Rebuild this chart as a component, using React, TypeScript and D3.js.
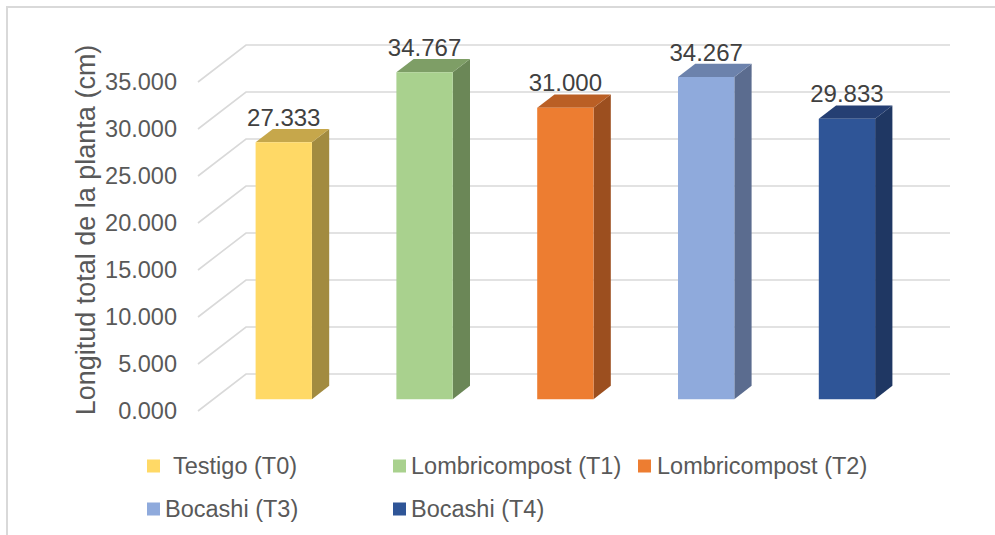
import React from "react";
import * as d3 from "d3";

const categories = ["Testigo (T0)", "Lombricompost (T1)", "Lombricompost (T2)", "Bocashi (T3)", "Bocashi (T4)"];
const values = [27.333, 34.767, 31.0, 34.267, 29.833];
const valueLabels = ["27.333", "34.767", "31.000", "34.267", "29.833"];
const frontColors = ["#FFD966", "#A9D18E", "#ED7D31", "#8FAADC", "#2F5597"];
const topColors = ["#C6A74B", "#7E9E66", "#BA5F25", "#6C82AC", "#253F73"];
const sideColors = ["#A28B40", "#6B8757", "#9C4F1F", "#5B6C8F", "#1F3763"];
const yTicks = [0, 5, 10, 15, 20, 25, 30, 35];
const yTitle = "Longitud total de la planta (cm)";

const W = 995;
const H = 535;
const FONT = "'Liberation Sans', Arial, sans-serif";

// oblique 3D frame: front-left floor corner and depth vector
const ox = 198;
const oy = 411;
const depthX = 48;
const depthY = -37;
const plotW = 704;
const barDepthStart = 0.32;
const barDepthEnd = 0.68;

const x = d3.scaleBand<string>().domain(categories).range([0, plotW]).paddingInner(0.6).paddingOuter(0.3);
const y = d3.scaleLinear().domain([0, 35]).range([0, 329]);

// project (horizontal position, value, depth fraction) to screen coordinates
function P(px: number, v: number, d: number): [number, number] {
  return [ox + px + d * depthX, oy - y(v) + d * depthY];
}

const poly = (pts: [number, number][]) => pts.map((p) => p.join(",")).join(" ");

export default function App() {
  const legendRows = [
    [0, 1, 2],
    [3, 4],
  ];
  const legendX = [147, 393, 638];
  const legendTextX = [173, 411, 657];
  const legendTextX2 = [165, 411];
  const legendY = [466, 509];

  return (
    <svg width={W} height={H} style={{ position: "absolute", left: 0, top: 0, background: "#fff" }}>
      <rect x={7} y={7} width={W + 10} height={H + 10} fill="#fff" stroke="#D9D9D9" strokeWidth={2} />

      {/* gridlines: side wall diagonals + back wall horizontals */}
      {yTicks.map((t) => {
        const a = P(0, t, 0);
        const b = P(0, t, 1);
        const c = P(plotW, t, 1);
        return (
          <polyline
            key={t}
            points={poly([a, b, c])}
            fill="none"
            stroke="#D9D9D9"
            strokeWidth={1.6}
          />
        );
      })}

      {/* y tick labels */}
      {yTicks.map((t) => {
        const a = P(0, t, 0);
        return (
          <text
            key={t}
            x={177}
            y={a[1]}
            dy="0.35em"
            textAnchor="end"
            fontFamily={FONT}
            fontSize={23.5}
            fill="#595959"
          >
            {d3.format(".3f")(t)}
          </text>
        );
      })}

      <text
        transform={`translate(95,230) rotate(-90)`}
        textAnchor="middle"
        fontFamily={FONT}
        fontSize={27}
        fill="#595959"
      >
        {yTitle}
      </text>

      {/* bars */}
      {categories.map((c, i) => {
        const x0 = x(c)!;
        const x1 = x0 + x.bandwidth();
        const v = values[i];
        const d0 = barDepthStart;
        const d1 = barDepthEnd;
        const front = [P(x0, 0, d0), P(x1, 0, d0), P(x1, v, d0), P(x0, v, d0)];
        const side = [P(x1, 0, d0), P(x1, 0, d1), P(x1, v, d1), P(x1, v, d0)];
        const top = [P(x0, v, d0), P(x1, v, d0), P(x1, v, d1), P(x0, v, d1)];
        const labelX = (x0 + x1) / 2 + ox + d0 * depthX;
        const labelY = P(0, v, d1)[1] - 3;
        return (
          <g key={c}>
            <polygon points={poly(side)} fill={sideColors[i]} />
            <polygon points={poly(top)} fill={topColors[i]} />
            <polygon points={poly(front)} fill={frontColors[i]} />
            <text
              x={labelX}
              y={labelY}
              textAnchor="middle"
              fontFamily={FONT}
              fontSize={24}
              fill="#404040"
            >
              {valueLabels[i]}
            </text>
          </g>
        );
      })}

      {/* legend */}
      {legendRows.map((row, r) =>
        row.map((idx, k) => (
          <g key={idx}>
            <rect x={legendX[k]} y={legendY[r] - 6.5} width={13} height={13} fill={frontColors[idx]} />
            <text
              x={r === 0 ? legendTextX[k] : legendTextX2[k]}
              y={legendY[r]}
              dy="0.35em"
              fontFamily={FONT}
              fontSize={23.5}
              fill="#595959"
            >
              {categories[idx]}
            </text>
          </g>
        ))
      )}
    </svg>
  );
}
